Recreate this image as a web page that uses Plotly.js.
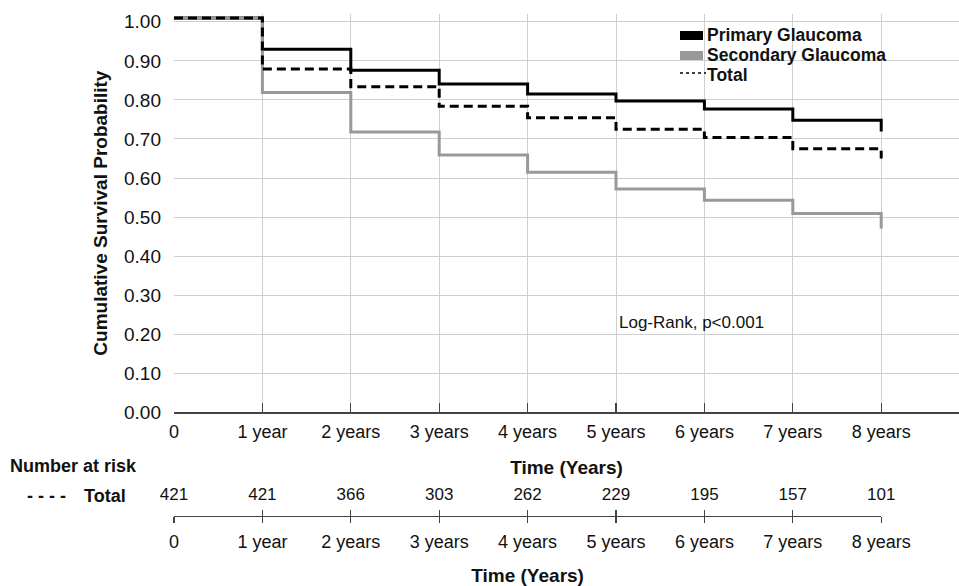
<!DOCTYPE html>
<html>
<head>
<meta charset="utf-8">
<script src="https://cdn.plot.ly/plotly-3.0.1.min.js"></script>
<style>html,body{margin:0;padding:0;background:#fff;}#chart{width:959px;height:586px;}</style>
</head>
<body>
<div id="chart"></div>
<script>
// ---- data ----
var timeYears = [0, 1, 2, 3, 4, 5, 6, 7, 8, 8];
var primarySurv = [1.01, 0.930, 0.876, 0.841, 0.815, 0.797, 0.777, 0.748, 0.748, 0.719];
var secondarySurv = [1.01, 0.819, 0.718, 0.659, 0.615, 0.572, 0.543, 0.509, 0.509, 0.471];
var totalSurv = [1.01, 0.879, 0.834, 0.784, 0.754, 0.725, 0.704, 0.675, 0.675, 0.650];
var tickYears = [0, 1, 2, 3, 4, 5, 6, 7, 8];
var tickLabels = ['0', '1 year', '2 years', '3 years', '4 years', '5 years', '6 years', '7 years', '8 years'];
var atRiskTotal = [421, 421, 366, 303, 262, 229, 195, 157, 101];
var yTicks = [0, 0.1, 0.2, 0.3, 0.4, 0.5, 0.6, 0.7, 0.8, 0.9, 1.0];

var FONT = '"Liberation Sans", Arial, Helvetica, sans-serif';
var XMAX = 8.88;
var TXT = '#111';

var traces = [
  {x: timeYears, y: primarySurv, name: 'Primary Glaucoma', mode: 'lines',
   line: {shape: 'hv', color: '#000000', width: 3}, xaxis: 'x', yaxis: 'y'},
  {x: timeYears, y: secondarySurv, name: 'Secondary Glaucoma', mode: 'lines',
   line: {shape: 'hv', color: '#999999', width: 3}, xaxis: 'x', yaxis: 'y'},
  {x: timeYears, y: totalSurv, name: 'Total', mode: 'lines',
   line: {shape: 'hv', color: '#000000', width: 3, dash: '9px,5px'}, xaxis: 'x', yaxis: 'y'},
  {x: tickYears, y: atRiskTotal.map(function(){return 0.52;}), text: atRiskTotal.map(String),
   mode: 'text', textposition: 'middle center', cliponaxis: false,
   textfont: {family: FONT, size: 17, color: TXT}, xaxis: 'x2', yaxis: 'y2', hoverinfo: 'skip'},
  {x: [], y: [], mode: 'lines', xaxis: 'x3', yaxis: 'y2', hoverinfo: 'skip'}
];

function px(p){ return (p - 174) / 785; }
function py(p){ return (586 - p) / 572; }

var layout = {
  width: 959, height: 586,
  margin: {l: 174, r: 0, t: 14, b: 0},
  paper_bgcolor: '#ffffff', plot_bgcolor: '#ffffff',
  showlegend: false,
  font: {family: FONT, size: 17, color: TXT},
  xaxis: {
    domain: [0, 1], range: [0, XMAX], anchor: 'y',
    tickvals: tickYears, ticktext: tickLabels,
    showgrid: true, gridcolor: '#cfcfcf', gridwidth: 1,
    zeroline: false, showline: true, linecolor: '#444', linewidth: 1.2,
    ticks: 'inside', ticklen: 9, tickcolor: '#444', tickwidth: 1.2,
    ticklabelstandoff: 3,
    tickfont: {family: FONT, size: 18, color: TXT},
    title: {text: '<b>Time (Years)</b>', font: {family: FONT, size: 19, color: TXT}, standoff: 19}
  },
  yaxis: {
    domain: [py(412.3), 1], range: [0, 1.02], anchor: 'x',
    tickvals: yTicks, tickformat: '.2f',
    showgrid: true, gridcolor: '#cfcfcf', gridwidth: 1,
    zeroline: false, showline: false, ticks: '', ticklabelstandoff: 12,
    tickfont: {family: FONT, size: 19, color: TXT},
    title: {text: '<b>Cumulative Survival Probability</b>', font: {family: FONT, size: 19, color: TXT}, standoff: 11}
  },
  xaxis2: {
    domain: [0, 8 / XMAX], range: [0, 8], anchor: 'y2',
    tickvals: tickYears, ticktext: tickLabels,
    showgrid: false, zeroline: false, showline: true, linecolor: '#444', linewidth: 1.2,
    ticks: 'outside', ticklen: 6, tickcolor: '#444', tickwidth: 1.2,
    ticklabelstandoff: 3,
    tickfont: {family: FONT, size: 18, color: TXT},
    title: {text: '<b>Time (Years)</b>', font: {family: FONT, size: 19, color: TXT}, standoff: 19}
  },
  xaxis3: {
    domain: [0, 8 / XMAX], range: [0, 8], anchor: 'y2', overlaying: 'x2',
    tickvals: tickYears, showticklabels: false,
    showgrid: false, zeroline: false, showline: false,
    ticks: 'inside', ticklen: 6, tickcolor: '#444', tickwidth: 1.2
  },
  yaxis2: {
    domain: [py(516), py(478)], range: [0, 1], anchor: 'x2', visible: false, fixedrange: true
  },
  shapes: [
    {type: 'rect', xref: 'paper', yref: 'paper', x0: px(680), x1: px(703), y0: py(40), y1: py(31),
     fillcolor: '#000', line: {width: 0}},
    {type: 'rect', xref: 'paper', yref: 'paper', x0: px(680), x1: px(703), y0: py(60), y1: py(51),
     fillcolor: '#999', line: {width: 0}},
    {type: 'line', xref: 'paper', yref: 'paper', x0: px(680), x1: px(706), y0: py(73), y1: py(73),
     line: {color: '#000', width: 1.5, dash: '3px,3px'}}
  ],
  annotations: [
    {xref: 'paper', yref: 'paper', x: px(705), y: py(35), xanchor: 'left', yanchor: 'middle', showarrow: false,
     text: '<b>Primary Glaucoma</b>', font: {family: FONT, size: 17.5, color: TXT}},
    {xref: 'paper', yref: 'paper', x: px(705), y: py(55), xanchor: 'left', yanchor: 'middle', showarrow: false,
     text: '<b>Secondary Glaucoma</b>', font: {family: FONT, size: 17.5, color: TXT}},
    {xref: 'paper', yref: 'paper', x: px(705), y: py(75), xanchor: 'left', yanchor: 'middle', showarrow: false,
     text: '<b>Total</b>', font: {family: FONT, size: 17.5, color: TXT}},
    {xref: 'paper', yref: 'paper', x: px(617), y: py(322), xanchor: 'left', yanchor: 'middle', showarrow: false,
     text: 'Log-Rank, p<0.001', font: {family: FONT, size: 17, color: TXT}},
    {xref: 'paper', yref: 'paper', x: px(8), y: py(466), xanchor: 'left', yanchor: 'middle', showarrow: false,
     text: '<b>Number at risk</b>', font: {family: FONT, size: 18, color: TXT}},
    {xref: 'paper', yref: 'paper', x: px(25), y: py(496), xanchor: 'left', yanchor: 'middle', showarrow: false,
     text: '<b>- - - -</b>', font: {family: FONT, size: 18, color: TXT}},
    {xref: 'paper', yref: 'paper', x: px(82), y: py(496), xanchor: 'left', yanchor: 'middle', showarrow: false,
     text: '<b>Total</b>', font: {family: FONT, size: 18, color: TXT}}
  ]
};

Plotly.newPlot('chart', traces, layout, {displayModeBar: false, staticPlot: true});
</script>
</body>
</html>
